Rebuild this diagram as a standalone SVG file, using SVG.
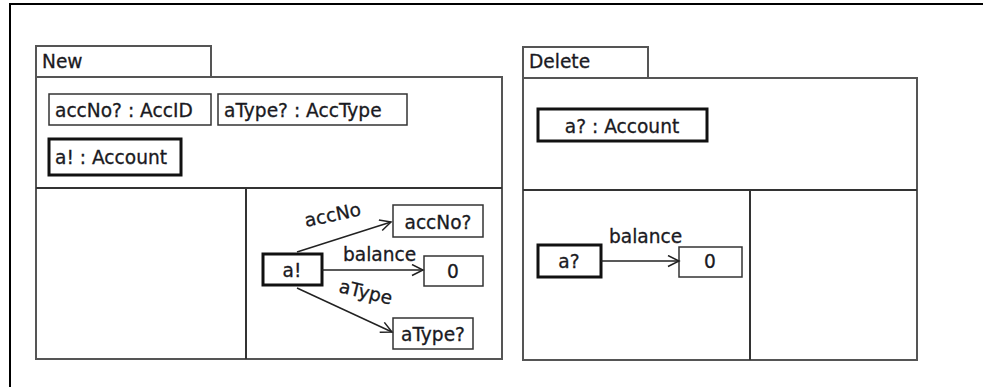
<svg xmlns="http://www.w3.org/2000/svg" width="983" height="387" viewBox="0 0 983 387">
  <style>
    text { font-family: "DejaVu Sans", "Liberation Sans", sans-serif; font-size: 18.6px; fill: #1a1a22; stroke: #1a1a22; stroke-width: 0.3; }
    .frame { fill: none; stroke: #000; stroke-width: 2; }
    .pkg { fill: #fff; stroke: #555; stroke-width: 2; }
    .div { fill: none; stroke: #333; stroke-width: 2; }
    .obj { fill: #fff; stroke: #333; stroke-width: 1.5; }
    .obj-bold { fill: #fff; stroke: #111; stroke-width: 3; }
    .link { fill: none; stroke: #222; stroke-width: 1.5; }
    .mid { text-anchor: middle; }
  </style>
  <defs>
    <marker id="open-arrow" markerWidth="14" markerHeight="14" refX="12" refY="6" orient="auto" markerUnits="userSpaceOnUse">
      <path d="M1,0.5 L12,6 L1,11.5" fill="none" stroke="#222" stroke-width="1.5"/>
    </marker>
  </defs>

  <rect width="983" height="387" fill="#fff"/>

  <!-- outer frame -->
  <path class="frame" d="M10,387 V4 H983"/>

  <!-- schema New -->
  <g id="schema-new">
    <rect class="pkg" x="36" y="46" width="175" height="31"/>
    <text x="42" y="68">New</text>
    <rect class="pkg" x="36" y="77" width="466" height="282"/>
    <line class="div" x1="36" y1="188" x2="502" y2="188"/>
    <line class="div" x1="246" y1="188" x2="246" y2="359"/>
  </g>

  <g id="decl-accNo">
    <rect class="obj" x="49" y="94" width="162" height="31"/>
    <text x="55" y="117">accNo? : AccID</text>
  </g>
  <g id="decl-aType">
    <rect class="obj" x="218" y="94" width="189" height="31"/>
    <text x="224" y="117">aType? : AccType</text>
  </g>
  <g id="decl-a-out">
    <rect class="obj-bold" x="49" y="139" width="132" height="36"/>
    <text x="55" y="164">a! : Account</text>
  </g>

  <g id="new-a">
    <rect class="obj-bold" x="263" y="254" width="59" height="31"/>
    <text class="mid" x="292" y="277">a!</text>
  </g>
  <g id="new-accNo">
    <rect class="obj" x="393" y="205" width="90" height="32"/>
    <text class="mid" x="438" y="229">accNo?</text>
  </g>
  <g id="new-zero">
    <rect class="obj" x="424" y="256" width="59" height="30"/>
    <text class="mid" x="453" y="278">0</text>
  </g>
  <g id="new-aType">
    <rect class="obj" x="393" y="318" width="80" height="31"/>
    <text class="mid" x="433" y="341">aType?</text>
  </g>

  <!-- schema Delete -->
  <g id="schema-delete">
    <rect class="pkg" x="523" y="47" width="125" height="31"/>
    <text x="529" y="68">Delete</text>
    <rect class="pkg" x="523" y="78" width="394" height="282"/>
    <line class="div" x1="523" y1="190" x2="917" y2="190"/>
    <line class="div" x1="750" y1="190" x2="750" y2="360"/>
  </g>

  <g id="decl-a-in">
    <rect class="obj-bold" x="538" y="109" width="169" height="32"/>
    <text class="mid" x="622" y="133">a? : Account</text>
  </g>
  <g id="del-a">
    <rect class="obj-bold" x="538" y="245" width="63" height="32"/>
    <text class="mid" x="569" y="268">a?</text>
  </g>
  <g id="del-zero">
    <rect class="obj" x="679" y="247" width="63" height="30"/>
    <text class="mid" x="710" y="268">0</text>
  </g>

  <!-- connectors -->
  <g id="connectors">
    <line class="link" x1="297" y1="252" x2="391" y2="222" marker-end="url(#open-arrow)"/>
    <text transform="translate(306,227) rotate(-12)">accNo</text>
    <line class="link" x1="322" y1="270" x2="423" y2="270" marker-end="url(#open-arrow)"/>
    <text x="343" y="261">balance</text>
    <line class="link" x1="297" y1="288" x2="392" y2="332" marker-end="url(#open-arrow)"/>
    <text transform="translate(338,292) rotate(13.5)">aType</text>
    <line class="link" x1="601" y1="261" x2="679" y2="261" marker-end="url(#open-arrow)"/>
    <text x="609" y="243">balance</text>
  </g>
</svg>
